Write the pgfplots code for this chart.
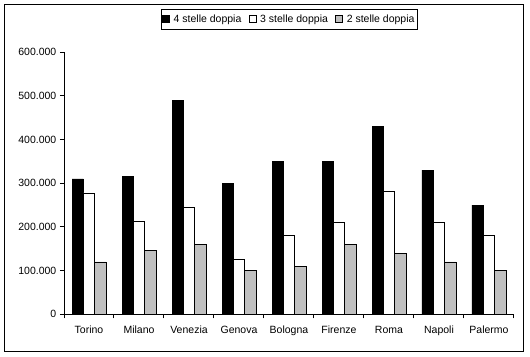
\documentclass[border=0pt]{standalone}
\usepackage{pgfplots}
\pgfplotsset{compat=1.18}
\usepackage{fontspec}
\setmainfont{Liberation Sans}
\definecolor{barGray}{RGB}{192,192,192}
\newcommand{\chartfont}{\fontsize{10.5bp}{12.6bp}\selectfont}
\begin{document}
\chartfont
\begin{tikzpicture}
\path[use as bounding box] (-64bp,-42.7bp) rectangle (466bp,314.3bp);
\draw[line width=1bp] (-59bp,-36.7bp) rectangle (459bp,309.3bp);
\begin{axis}[
  at={(0,0)}, anchor=south west,
  scale only axis, width=450bp, height=262bp,
  ymin=0, ymax=600000, xmin=-0.5, xmax=8.5,
  axis lines*=left,
  axis line style={line width=1bp, black},
  ybar=0pt, bar width=11.33bp,
  tick align=outside,
  major tick length=4bp, minor tick length=4bp,
  tick style={line width=1bp, black},
  xtick={0,...,8},
  xticklabels={Torino,Milano,Venezia,Genova,Bologna,Firenze,Roma,Napoli,Palermo},
  major x tick style={draw=none},
  minor xtick={-0.5,0.5,...,8.5},
  ytick={0,100000,200000,300000,400000,500000,600000},
  yticklabels={0,100.000,200.000,300.000,400.000,500.000,600.000},
  scaled y ticks=false,
  xticklabel style={font=\chartfont, yshift=-4bp},
  yticklabel style={font=\chartfont},
  legend columns=3,
  legend image code/.code={\draw[#1, line width=0.8bp, draw=black] (0bp,-3.5bp) rectangle (7bp,3.5bp);},
  legend style={at={(0.501,1.1653)}, anchor=north, font=\chartfont, draw=black, line width=1bp,
    inner xsep=1bp, inner ysep=3.3bp, nodes={inner sep=2bp},
    /tikz/every odd column/.append style={column sep=1.5bp},
    /tikz/every even column/.append style={column sep=5.5bp}},
]
\addplot[fill=black, draw=black, line width=0.8bp] coordinates {
(0,310000) (1,315000) (2,490000) (3,300000) (4,350000) (5,350000) (6,430000) (7,330000) (8,250000)};
\addplot[fill=white, draw=black, line width=0.8bp] coordinates {
(0,278000) (1,212000) (2,245000) (3,125000) (4,180000) (5,210000) (6,282000) (7,210000) (8,180000)};
\addplot[fill=barGray, draw=black, line width=0.8bp] coordinates {
(0,120000) (1,146000) (2,160000) (3,100000) (4,110000) (5,160000) (6,140000) (7,120000) (8,100000)};
\legend{4 stelle doppia,3 stelle doppia,2 stelle doppia}
\end{axis}
\end{tikzpicture}
\end{document}
